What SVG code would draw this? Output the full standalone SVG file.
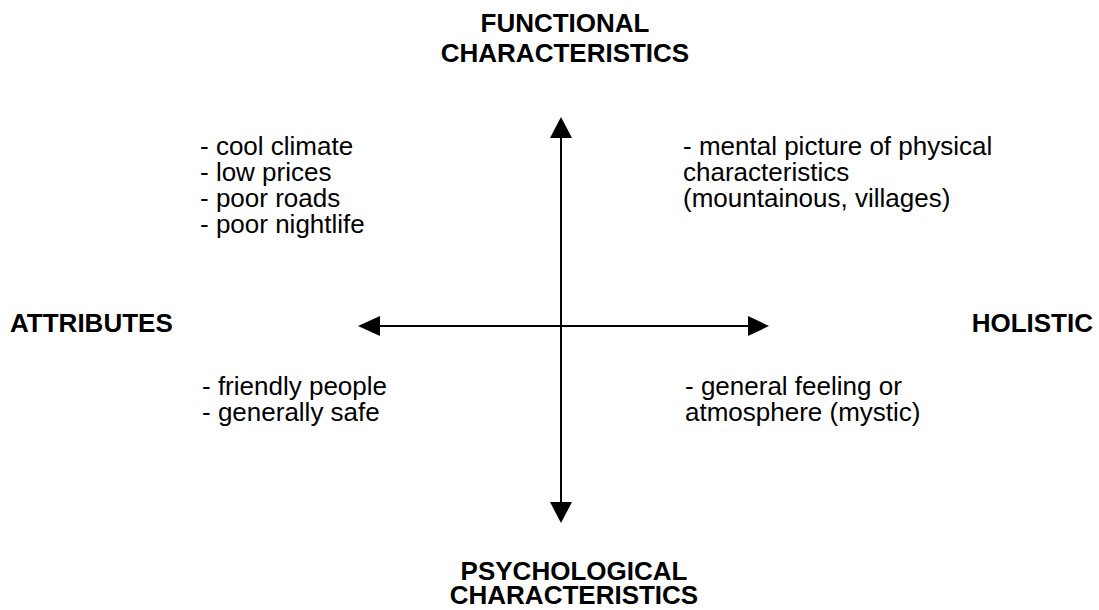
<svg xmlns="http://www.w3.org/2000/svg" width="1099" height="610" viewBox="0 0 1099 610">
<style>
.h{font-family:"Liberation Sans",Arial,sans-serif;font-weight:bold;font-size:26px;fill:#000}
.t{font-family:"Liberation Sans",Arial,sans-serif;font-size:26px;fill:#000}
.ax{stroke:#000;stroke-width:2;fill:none}
.ah{fill:#000}
</style>
<rect width="1099" height="610" fill="#fff"/>
<g id="connectors">
<line class="ax" x1="561" y1="136" x2="561" y2="504"/>
<polygon class="ah" points="561,117 550,138 572,138"/>
<polygon class="ah" points="561,523 550,502 572,502"/>
<line class="ax" x1="378" y1="326" x2="750" y2="326"/>
<polygon class="ah" points="358,326 380,316 380,336"/>
<polygon class="ah" points="769,326 748,316 748,336"/>
</g>
<g id="functional">
<text class="h" x="565" y="32" text-anchor="middle">FUNCTIONAL</text>
<text class="h" x="565" y="62" text-anchor="middle">CHARACTERISTICS</text>
</g>
<g id="psychological">
<text class="h" x="574" y="580" text-anchor="middle">PSYCHOLOGICAL</text>
<text class="h" x="574" y="604" text-anchor="middle">CHARACTERISTICS</text>
</g>
<g id="attributes">
<text class="h" x="10" y="332">ATTRIBUTES</text>
</g>
<g id="holistic">
<text class="h" x="1093" y="332" text-anchor="end">HOLISTIC</text>
</g>
<g id="q-top-left">
<text class="t" x="200" y="155">- cool climate</text>
<text class="t" x="200" y="181">- low prices</text>
<text class="t" x="200" y="207">- poor roads</text>
<text class="t" x="200" y="233">- poor nightlife</text>
</g>
<g id="q-top-right">
<text class="t" x="683" y="155">- mental picture of physical</text>
<text class="t" x="683" y="181">characteristics</text>
<text class="t" x="683" y="207">(mountainous, villages)</text>
</g>
<g id="q-bottom-left">
<text class="t" x="202" y="395">- friendly people</text>
<text class="t" x="202" y="421">- generally safe</text>
</g>
<g id="q-bottom-right">
<text class="t" x="685" y="395">- general feeling or</text>
<text class="t" x="685" y="421">atmosphere (mystic)</text>
</g>
</svg>
